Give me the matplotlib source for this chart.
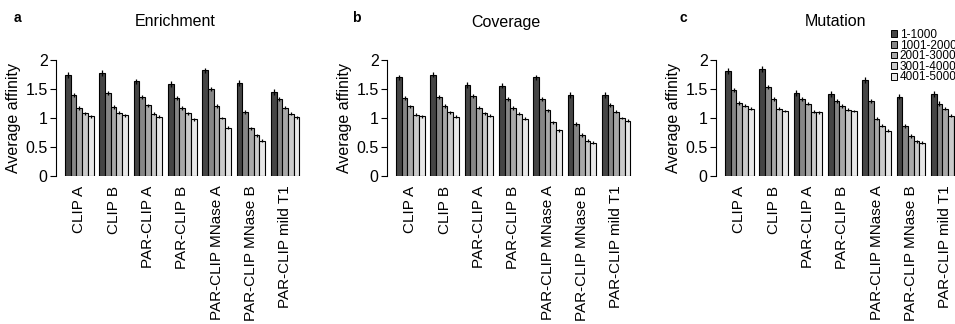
import numpy as np
import matplotlib.pyplot as plt
from matplotlib.patches import Patch

plt.rcParams['font.family'] = ['Liberation Sans', 'DejaVu Sans']

samples = ["CLIP A", "CLIP B", "PAR-CLIP A", "PAR-CLIP B",
           "PAR-CLIP MNase A", "PAR-CLIP MNase B", "PAR-CLIP mild T1"]
bins = ["1-1000", "1001-2000", "2001-3000", "3001-4000", "4001-5000"]
colors = ["#454545", "#868686", "#a8a8a8", "#cacaca", "#e8e8e8"]

# rows = samples, columns = rank bins
enrichment = [[1.74, 1.40, 1.17, 1.08, 1.03],
              [1.78, 1.43, 1.19, 1.09, 1.05],
              [1.63, 1.37, 1.22, 1.07, 1.02],
              [1.59, 1.34, 1.17, 1.08, 0.98],
              [1.82, 1.50, 1.21, 1.00, 0.83],
              [1.61, 1.11, 0.82, 0.70, 0.61],
              [1.45, 1.32, 1.18, 1.07, 1.01]]
coverage = [[1.70, 1.35, 1.20, 1.06, 1.03],
            [1.75, 1.37, 1.21, 1.10, 1.02],
            [1.57, 1.38, 1.18, 1.08, 1.04],
            [1.56, 1.32, 1.17, 1.07, 0.99],
            [1.70, 1.33, 1.13, 0.93, 0.79],
            [1.39, 0.89, 0.71, 0.61, 0.57],
            [1.39, 1.22, 1.11, 1.00, 0.95]]
mutation = [[1.81, 1.49, 1.26, 1.21, 1.16],
            [1.84, 1.53, 1.33, 1.16, 1.12],
            [1.43, 1.32, 1.25, 1.11, 1.10],
            [1.41, 1.30, 1.21, 1.14, 1.12],
            [1.65, 1.30, 0.99, 0.87, 0.78],
            [1.37, 0.86, 0.69, 0.60, 0.57],
            [1.41, 1.25, 1.16, 1.04, 1.00]]
errors = [0.05, 0.035, 0.03, 0.025, 0.025]

panels = [("a", "Enrichment", enrichment),
          ("b", "Coverage", coverage),
          ("c", "Mutation", mutation)]

W, H = 955, 324
fig = plt.figure(figsize=(W / 100, H / 100), dpi=100)

unit = 34.3 / 6      # px per bar
spine_x = [56, 387, 716]
letter_x = [14, 352, 680]
ax_w = 265

for k, (letter, title, data) in enumerate(panels):
    x0 = spine_x[k]
    ax = fig.add_axes([x0 / W, (H - 176) / H, ax_w / W, 116 / H])
    data = np.array(data)
    for i in range(len(bins)):
        xs = np.arange(len(samples)) * 6 + i + 0.5
        ax.bar(xs, data[:, i], width=1, color=colors[i], edgecolor="black",
               linewidth=0.8, label=bins[i])
        ax.errorbar(xs, data[:, i], yerr=errors[i], fmt="none", ecolor="black",
                    elinewidth=0.9, capsize=0, clip_on=False, zorder=3)
    left = -1.58
    ax.set_xlim(left, left + ax_w / unit)
    ax.set_ylim(0, 2)
    ax.set_yticks([0, 0.5, 1, 1.5, 2])
    ax.set_yticklabels(["0", "0.5", "1", "1.5", "2"])
    ax.set_xticks(np.arange(len(samples)) * 6 + 2.5)
    ax.set_xticklabels(samples, rotation=90)
    ax.tick_params(axis="x", length=0, pad=7, labelsize=11)
    ax.tick_params(axis="y", length=4, width=0.8, pad=2, labelsize=11.5)
    for s in ["top", "right", "bottom"]:
        ax.spines[s].set_visible(False)
    ax.spines["left"].set_linewidth(0.8)
    ax.set_ylabel("Average affinity", fontsize=11.5, labelpad=3)
    fig.text((x0 + 119) / W, 1 - 22 / H, title, ha="center", va="center", fontsize=11.5)
    fig.text(letter_x[k] / W, 1 - 18 / H, letter, ha="left", va="center",
             fontsize=10, fontweight="bold")

handles = [Patch(facecolor=c, edgecolor="black", linewidth=0.7) for c in colors]
fig.legend(handles, bins, loc="upper left", bbox_to_anchor=(891 / W, 1 - 29 / H),
           frameon=False, fontsize=8.5, handlelength=0.5, handleheight=0.5,
           handletextpad=0.25, labelspacing=-0.12, borderpad=0, borderaxespad=0)

fig.savefig("out.png", dpi=100)
